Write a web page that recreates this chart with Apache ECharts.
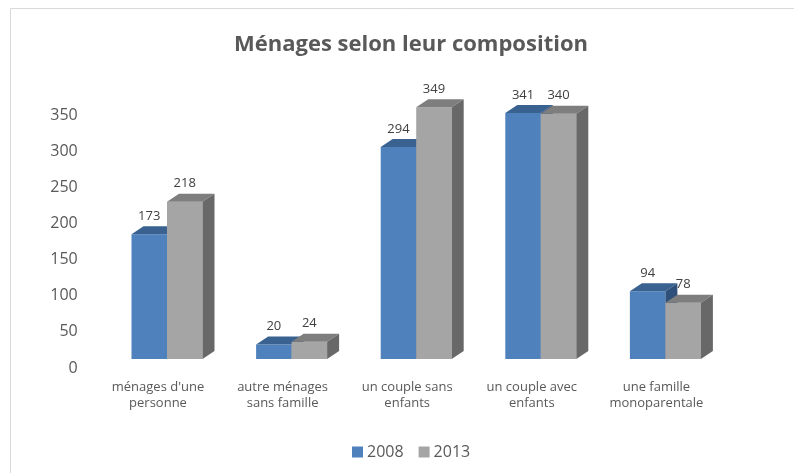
<!DOCTYPE html>
<html>
<head>
<meta charset="utf-8">
<script src="https://cdn.jsdelivr.net/npm/echarts@6/dist/echarts.min.js"></script>
<style>
  html, body { margin: 0; padding: 0; background: #fff; }
  #chart { width: 794px; height: 473px; }
</style>
</head>
<body>
<div id="chart"></div>
<script>
// data
var categories = ["ménages d'une\npersonne", "autre ménages\nsans famille", "un couple sans\nenfants", "un couple avec\nenfants", "une famille\nmonoparentale"];
var values2008 = [173, 20, 294, 341, 94];
var values2013 = [218, 24, 349, 340, 78];
var seriesNames = ["2008", "2013"];
var yMin = 0, yMax = 350, yStep = 50;

var myChart = echarts.init(document.getElementById("chart"));

// couleurs des faces : avant, dessus, côté
var faces = [
  { front: "#4F81BD", top: "#3A6290", side: "#2F5078" },
  { front: "#A5A5A5", top: "#7E7E7E", side: "#686868" }
];

// barre "3D" : face avant + dessus + côté
function bar3d(idx) {
  return function (params, api) {
    var cat = api.value(0), val = api.value(1);
    var top = api.coord([cat, val]);
    var base = api.coord([cat, 0]);
    var bw = 35.5, dx = 12, dy = -8, sx = 9, sy = -9;
    var x0 = top[0] + sx + (idx === 0 ? -bw : 0);
    var x1 = x0 + bw;
    var yT = top[1] + sy, yB = base[1] + sy;
    var c = faces[idx];
    return {
      type: "group",
      children: [
        { type: "rect", shape: { x: x0, y: yT, width: bw, height: yB - yT }, style: { fill: c.front } },
        { type: "polygon", shape: { points: [[x0, yT], [x1, yT], [x1 + dx, yT + dy], [x0 + dx, yT + dy]] }, style: { fill: c.top } },
        { type: "polygon", shape: { points: [[x1, yT], [x1 + dx, yT + dy], [x1 + dx, yB + dy], [x1, yB]] }, style: { fill: c.side } },
        { type: "text", x: x0 + bw / 2, y: yT - 18, style: { text: String(val), fill: "#404040", font: "13px 'Open Sans'", align: "center", verticalAlign: "middle" } }
      ]
    };
  };
}

var option = {
  backgroundColor: "#fff",
  title: {
    text: "Ménages selon leur composition",
    left: 406, top: 29, textAlign: "center",
    textStyle: { fontFamily: "Open Sans", fontSize: 22, fontWeight: "bold", color: "#595959" }
  },
  graphic: [{
    type: "rect", shape: { x: 10.5, y: 8.5, width: 800, height: 500 },
    style: { fill: "none", stroke: "#D9D9D9", lineWidth: 1 }, silent: true
  }],
  legend: {
    data: seriesNames,
    left: 347, top: 439,
    icon: "rect", itemWidth: 11, itemHeight: 11, itemGap: 15,
    textStyle: { fontFamily: "Open Sans", fontSize: 16, color: "#595959", padding: [0, 0, 0, -1] }
  },
  grid: { left: 95.7, right: 75.3, top: 115.5, bottom: 105 },
  xAxis: {
    type: "category",
    data: categories,
    axisLine: { show: false },
    axisTick: { show: false },
    axisLabel: { interval: 0, margin: 11, fontFamily: "Open Sans", fontSize: 13, lineHeight: 16, color: "#595959" }
  },
  yAxis: {
    type: "value",
    min: yMin, max: yMax, interval: yStep,
    axisLine: { show: false },
    axisTick: { show: false },
    splitLine: { show: false },
    axisLabel: { margin: 18, fontFamily: "Open Sans", fontSize: 16, color: "#595959" }
  },
  series: [
    {
      name: seriesNames[0], type: "custom", clip: false,
      itemStyle: { color: faces[0].front },
      encode: { x: 0, y: 1 },
      data: values2008.map(function (v, i) { return [i, v]; }),
      renderItem: bar3d(0)
    },
    {
      name: seriesNames[1], type: "custom", clip: false,
      itemStyle: { color: faces[1].front },
      encode: { x: 0, y: 1 },
      data: values2013.map(function (v, i) { return [i, v]; }),
      renderItem: bar3d(1)
    }
  ]
};

option && myChart.setOption(option);
</script>
</body>
</html>
